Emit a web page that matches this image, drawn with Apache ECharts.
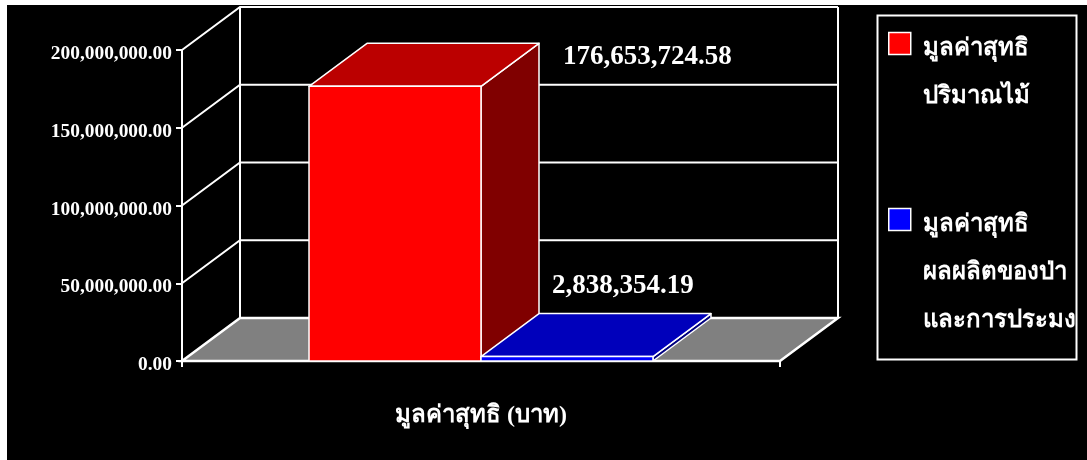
<!DOCTYPE html>
<html><head><meta charset="utf-8">
<style>html,body{margin:0;padding:0;background:#fff}#c{width:1087px;height:460px}</style>
<script src="https://cdn.jsdelivr.net/npm/echarts@6/dist/echarts.min.js"></script>
</head><body><div id="c"></div>
<script>
const categories = ['มูลค่าสุทธิ (บาท)'];
const yTicks = [0, 50000000, 100000000, 150000000, 200000000];
const seriesNames = ['มูลค่าสุทธิ ปริมาณไม้', 'มูลค่าสุทธิ ผลผลิตของป่า และการประมง'];
const woodValues = [176653724.58];
const forestValues = [2838354.19];

const FONT = '"Liberation Serif","Times New Roman",serif';
const DX = 58, DY = 43, BAR_FRAC = 0.2876;
const fmt = v => v.toLocaleString('en-US', {minimumFractionDigits: 2, maximumFractionDigits: 2});
const W = {stroke: '#fff', lineWidth: 2};

function renderFrame(params, api) {
  const v = api.value(0);
  const p = api.coord([0, v]);
  const half = api.size([1, 0])[0] / 2;
  const x0 = p[0] - half, x1 = p[0] + half, y = p[1];
  const kids = [];
  if (v === 0) {
    kids.push({type: 'polygon', shape: {points: [[x0, y], [x1, y], [x1 + DX, y - DY], [x0 + DX, y - DY]]},
      style: {fill: '#808080', stroke: '#fff', lineWidth: 2.5}});
    const top = api.coord([0, yTicks[yTicks.length - 1]])[1];
    kids.push({type: 'line', shape: {x1: x0 + DX, y1: top - DY, x2: x0 + DX, y2: y - DY}, style: W});
    kids.push({type: 'line', shape: {x1: x1 + DX, y1: top - DY, x2: x1 + DX, y2: y - DY}, style: W});
  } else {
    kids.push({type: 'polyline', shape: {points: [[x0, y], [x0 + DX, y - DY], [x1 + DX, y - DY]]}, style: {fill: null, stroke: '#fff', lineWidth: 2}});
  }
  return {type: 'group', children: kids};
}

function renderBar(sIndex, colors, labelDx, labelDy) {
  return function (params, api) {
    const val = api.value(1);
    const base = api.coord([0, 0]), top = api.coord([0, val]);
    const bw = api.size([1, 0])[0] * BAR_FRAC;
    const l = base[0] + (sIndex - 1) * bw, r = l + bw, t = top[1], b = base[1];
    const S = {stroke: '#fff', lineWidth: 1.5, lineJoin: 'round'};
    return {type: 'group', children: [
      {type: 'polygon', shape: {points: [[r, t], [r + DX, t - DY], [r + DX, b - DY], [r, b]]}, style: {fill: colors[2], ...S}},
      {type: 'polygon', shape: {points: [[l, t], [r, t], [r + DX, t - DY], [l + DX, t - DY]]}, style: {fill: colors[1], ...S}},
      {type: 'rect', shape: {x: l, y: t, width: bw, height: b - t}, style: {fill: colors[0], ...S}},
      {type: 'text', style: {x: r + labelDx, y: t + labelDy, text: fmt(val), fill: '#fff',
        font: 'bold 27px ' + FONT, textAlign: 'left', textVerticalAlign: 'middle'}}
    ]};
  };
}

const legendLines = n => {
  const parts = n.split(' ');
  return '\n'.repeat(parts.length - 1) + parts.join('\n');
};

const chart = echarts.init(document.getElementById('c'), null, {renderer: 'canvas'});
chart.setOption({
  animation: false,
  backgroundColor: '#fff',
  graphic: [
    {type: 'rect', left: 7, top: 5, z: -10, shape: {width: 1080, height: 455}, style: {fill: '#000'}},
    {type: 'rect', left: 875, top: 13, z: 5, shape: {width: 199, height: 344}, style: {fill: null, stroke: '#fff', lineWidth: 2}}
  ],
  grid: {left: 182, right: 307, top: 50, bottom: 99, containLabel: false},
  xAxis: {type: 'category', data: categories, boundaryGap: true,
    axisLine: {show: true, lineStyle: {color: '#fff', width: 2}},
    axisTick: {show: true, alignWithLabel: false, length: 6, lineStyle: {color: '#fff', width: 2}},
    axisLabel: {color: '#fff', fontFamily: FONT, fontWeight: 'bold', fontSize: 24, margin: 43}},
  yAxis: {type: 'value', min: 0, max: 200000000, interval: 50000000,
    axisLine: {show: true, lineStyle: {color: '#fff', width: 2}},
    axisTick: {show: true, length: 6, lineStyle: {color: '#fff', width: 2}},
    splitLine: {show: false},
    axisLabel: {color: '#fff', fontFamily: FONT, fontWeight: 'bold', fontSize: 19.4, margin: 10, verticalAlign: 'top', lineHeight: 8, formatter: fmt}},
  legend: {
    orient: 'vertical', left: 888, top: -23, padding: 0, itemGap: -16, itemWidth: 22, itemHeight: 33,
    selectedMode: false, icon: 'path://M0 0H22V22H0Z M0 33h0',
    data: seriesNames,
    formatter: legendLines,
    itemStyle: {borderColor: '#fff', borderWidth: 1.5},
    textStyle: {color: '#fff', fontFamily: FONT, fontWeight: 'bold', fontSize: 24, lineHeight: 48, padding: [0, 0, 0, 7]}
  },
  series: [
    {type: 'custom', name: 'frame', data: yTicks.map(v => [v]), encode: {y: 0}, renderItem: renderFrame, z: 1, silent: true},
    {type: 'custom', name: seriesNames[0], itemStyle: {color: '#ff0000'}, data: woodValues.map(v => [0, v]), encode: {x: 0, y: 1},
      renderItem: renderBar(0, ['#ff0000', '#bb0000', '#800000'], 82, -29), z: 2},
    {type: 'custom', name: seriesNames[1], itemStyle: {color: '#0000ff'}, data: forestValues.map(v => [0, v]), encode: {x: 0, y: 1},
      renderItem: renderBar(1, ['#0000ff', '#0000bb', '#000080'], -101, -71), z: 3}
  ]
});
</script></body></html>
